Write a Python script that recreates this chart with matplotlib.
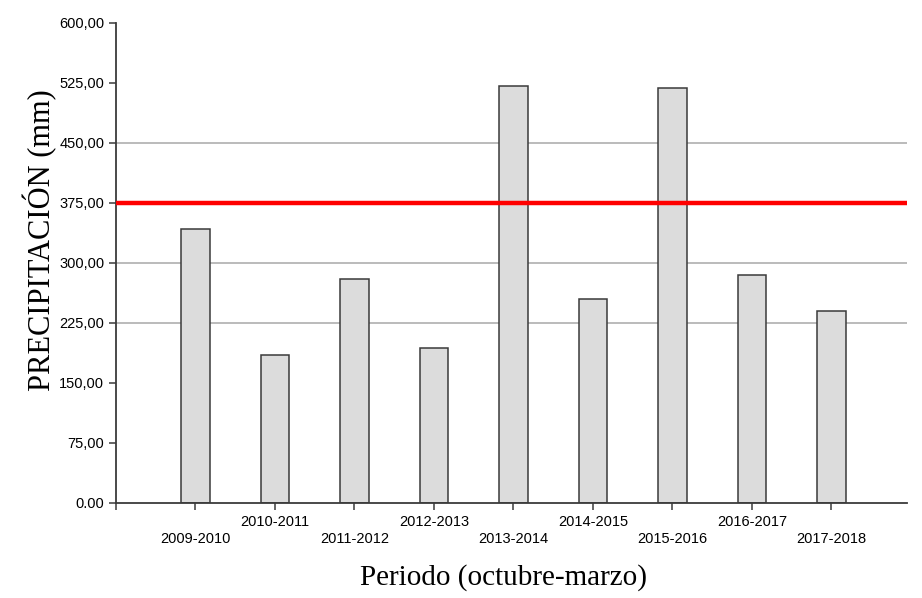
import matplotlib
matplotlib.use("Agg")
import matplotlib.pyplot as plt
import numpy as np

periodos = ["2009-2010", "2010-2011", "2011-2012", "2012-2013", "2013-2014",
            "2014-2015", "2015-2016", "2016-2017", "2017-2018"]
precipitacion = [342, 185, 279.5, 193, 521, 255, 519, 285, 240]
media = 375
yticks = [0, 75, 150, 225, 300, 375, 450, 525, 600]
ytick_labels = ["0.00", "75,00", "150,00", "225,00", "300,00", "375,00",
                "450,00", "525,00", "600,00"]
grid_vals = [225, 300, 450]

fig = plt.figure(figsize=(9.22, 5.98), dpi=100)
ax = fig.add_axes([0.1258, 0.159, 0.8579, 0.803])

x = np.arange(len(periodos))

# gridlines only where the original draws them
for g in grid_vals:
    ax.axhline(g, color="#a8a8a8", lw=1.1, zorder=1)

ax.bar(x, precipitacion, width=0.355, color="#dcdcdc", edgecolor="#3a3a3a",
       linewidth=1.1, zorder=2)
ax.axhline(media, color="#ff0000", lw=3.2, zorder=3)

ax.set_xlim(-1, 8.95)
ax.set_ylim(0, 600)

ax.set_yticks(yticks)
ax.set_yticklabels(ytick_labels, fontfamily="Liberation Sans", fontsize=10.5)
ax.set_xticks(x)
ax.set_xticklabels(periodos, fontfamily="Liberation Sans", fontsize=10.5)
ax.set_xticks([-1], minor=True)
ax.tick_params(axis="x", which="minor", length=5, width=1.1, color="#3a3a3a")

for i, t in enumerate(ax.xaxis.get_major_ticks()):
    t.set_pad(4 if i % 2 else 16)

ax.tick_params(axis="both", which="major", length=5, width=1.1,
               color="#3a3a3a", labelcolor="black")

for s in ["top", "right"]:
    ax.spines[s].set_visible(False)
for s in ["left", "bottom"]:
    ax.spines[s].set_color("#3a3a3a")
    ax.spines[s].set_linewidth(1.3)

ax.set_ylabel("PRECIPITACIÓN (mm)", fontfamily="Liberation Serif", fontsize=22)
ax.yaxis.set_label_coords(-0.074, 0.548)
ax.set_xlabel("Periodo (octubre-marzo)", fontfamily="Liberation Serif",
              fontsize=21)
ax.xaxis.set_label_coords(0.49, -0.128)

fig.savefig("out.png", dpi=100)
